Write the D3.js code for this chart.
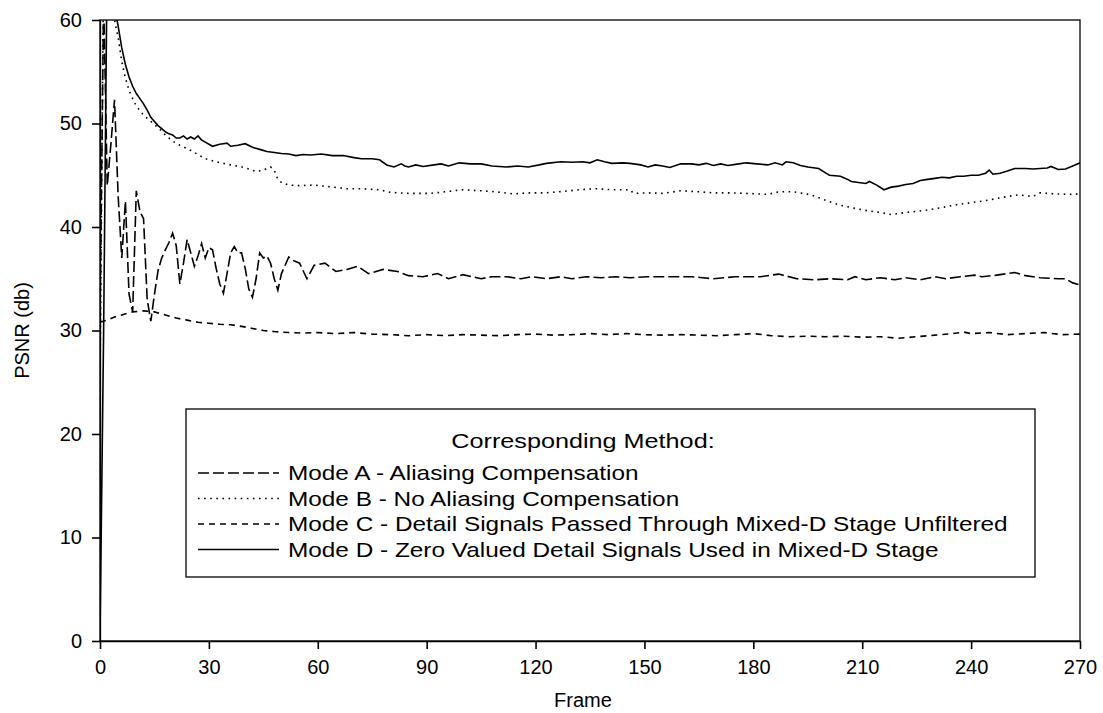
<!DOCTYPE html>
<html>
<head>
<meta charset="utf-8">
<script src="https://cdn.jsdelivr.net/npm/d3@7"></script>
<style>
  body { margin: 0; background: #fff; }
  text { font-family: "Liberation Sans", Arial, sans-serif; fill: #000; }
</style>
</head>
<body>
<div id="chart"></div>
<script>
// The data (PSNR per frame)
var modeAFrames = [0, 1, 2, 3, 4, 5, 6, 7, 8, 9, 10, 11, 12, 13, 14, 15, 16, 17, 18, 19, 20, 21, 22, 23, 24, 25, 26, 27, 28, 29, 30, 31, 32, 33, 34, 35, 36, 37, 38, 39, 40, 41, 42, 43, 44, 45, 46, 47, 48, 49, 50, 52, 53, 55, 57, 59, 62, 65, 68, 71, 74, 78, 82, 85, 89, 93, 96, 100, 105, 108, 112, 116, 119, 123, 127, 130, 134, 138, 142, 146, 151, 154, 158, 163, 166, 169, 175, 182, 187, 192, 197, 201, 206, 208, 211, 215, 219, 222, 226, 230, 233, 237, 241, 243, 247, 252, 255, 259, 264, 266, 268, 270];
var modeAValues = [31, 62, 44, 48, 52.3, 43, 37, 42.5, 33.5, 31.8, 43.5, 41.5, 40.8, 33, 30.9, 33.5, 35.8, 37, 37.8, 38.5, 39.4, 38.2, 34.5, 36.5, 38.8, 37.5, 36.2, 37.2, 38.4, 37, 38, 37.8, 36, 34.5, 33.6, 35.5, 37.5, 38.1, 37.5, 37.5, 36, 34, 33.2, 35, 37.5, 37, 37.2, 36.5, 35, 33.9, 35.5, 37.1, 36.8, 36.5, 35.0, 36.3, 36.5, 35.7, 35.9, 36.2, 35.5, 35.9, 35.7, 35.3, 35.2, 35.5, 35.0, 35.4, 35.0, 35.2, 35.2, 35.0, 35.2, 35.0, 35.2, 35.0, 35.2, 35.1, 35.2, 35.1, 35.2, 35.2, 35.2, 35.2, 35.1, 35.0, 35.2, 35.2, 35.45, 35.0, 34.9, 35.0, 34.9, 35.2, 34.9, 35.1, 34.9, 35.1, 34.9, 35.2, 35.0, 35.2, 35.35, 35.2, 35.35, 35.6, 35.3, 35.1, 35.0, 35.0, 34.6, 34.4];

var modeBFrames = [0, 1, 2, 3, 4, 5, 6, 7, 8, 9, 10, 12, 14, 16, 18, 20, 22, 25, 27, 29, 32, 34, 36, 39, 41, 43, 45, 47, 48, 49, 50, 52, 55, 59, 63, 68, 72, 77, 80, 85, 91, 95, 100, 105, 109, 114, 118, 123, 128, 132, 137, 141, 146, 147, 151, 155, 160, 165, 169, 174, 178, 184, 187, 191, 196, 199, 201, 204, 206, 210, 215, 218, 222, 226, 229, 233, 236, 240, 244, 247, 250, 253, 257, 259, 263, 268, 270];
var modeBValues = [25, 66, 63, 61.5, 60, 58.3, 56, 54.4, 53.2, 52.4, 51.7, 50.8, 50.2, 49.6, 48.9, 48.3, 47.9, 47.4, 47.0, 46.6, 46.3, 46.15, 46.0, 45.8, 45.6, 45.35, 45.5, 45.8, 45.5, 44.6, 44.3, 44.05, 44.0, 44.05, 43.9, 43.7, 43.7, 43.6, 43.35, 43.25, 43.25, 43.4, 43.6, 43.5, 43.4, 43.2, 43.3, 43.3, 43.45, 43.6, 43.7, 43.6, 43.6, 43.25, 43.3, 43.25, 43.5, 43.4, 43.3, 43.3, 43.25, 43.15, 43.4, 43.4, 43.1, 42.7, 42.45, 42.1, 41.95, 41.65, 41.4, 41.2, 41.4, 41.55, 41.7, 41.95, 42.15, 42.35, 42.55, 42.75, 42.95, 43.1, 42.95, 43.3, 43.2, 43.15, 43.2];

var modeCFrames = [0, 2, 4, 6, 9, 12, 15, 18, 21, 24, 27, 30, 33, 36, 39, 42, 45, 48, 52, 56, 60, 65, 70, 75, 80, 85, 90, 95, 100, 105, 110, 115, 120, 125, 130, 135, 140, 145, 150, 155, 160, 165, 170, 175, 180, 185, 190, 195, 200, 205, 210, 215, 220, 225, 230, 235, 238, 240, 245, 250, 255, 260, 265, 270];
var modeCValues = [30.8, 31.0, 31.3, 31.5, 31.8, 31.9, 31.8, 31.5, 31.2, 31.0, 30.8, 30.7, 30.6, 30.55, 30.4, 30.2, 30.0, 29.9, 29.8, 29.75, 29.8, 29.7, 29.8, 29.65, 29.6, 29.5, 29.6, 29.5, 29.6, 29.55, 29.5, 29.6, 29.65, 29.55, 29.6, 29.7, 29.6, 29.7, 29.6, 29.55, 29.6, 29.55, 29.5, 29.6, 29.7, 29.5, 29.4, 29.45, 29.4, 29.45, 29.35, 29.4, 29.25, 29.4, 29.55, 29.7, 29.85, 29.7, 29.8, 29.6, 29.7, 29.8, 29.6, 29.65];

var modeDFrames = [0, 1, 2, 3, 4, 5, 6, 7, 8, 9, 10, 11, 12, 13, 14, 15, 16, 17, 18, 19, 20, 21, 22, 23, 24, 25, 26, 27, 28, 29, 31, 33, 35, 36, 38, 40, 42, 44, 46, 48, 50, 52, 54, 56, 58, 61, 64, 67, 70, 72, 75, 77, 79, 81, 83, 84, 85, 87, 89, 92, 94, 96, 99, 102, 105, 108, 112, 115, 118, 121, 123, 127, 130, 133, 135, 137, 139, 141, 144, 146, 149, 151, 153, 155, 157, 160, 163, 165, 167, 169, 171, 173, 176, 178, 181, 184, 186, 188, 189, 191, 193, 195, 197, 198, 200, 201, 204, 206, 207, 209, 211, 212, 214, 216, 218, 220, 222, 224, 226, 228, 230, 232, 234, 236, 238, 240, 242, 244, 245, 246, 248, 250, 252, 255, 257, 259, 261, 262, 264, 266, 268, 270];
var modeDValues = [0.5, 30, 67, 64, 61.3, 59.4, 57.3, 55.7, 54.5, 53.6, 52.9, 52.4, 51.9, 51.3, 50.6, 50.2, 49.8, 49.5, 49.2, 49.0, 48.9, 48.6, 48.6, 48.8, 48.5, 48.7, 48.5, 48.8, 48.4, 48.2, 47.8, 48.0, 48.1, 47.8, 47.9, 48.05, 47.7, 47.5, 47.3, 47.2, 47.1, 47.05, 46.9, 47.0, 46.95, 47.05, 46.9, 46.9, 46.7, 46.6, 46.6, 46.5, 46.0, 45.8, 46.1, 45.9, 45.8, 46.0, 45.85, 46.0, 46.1, 45.9, 46.2, 46.1, 46.1, 45.9, 45.8, 45.9, 45.8, 46.0, 46.15, 46.3, 46.25, 46.3, 46.2, 46.5, 46.3, 46.15, 46.2, 46.15, 46.0, 45.8, 46.0, 45.9, 45.75, 46.1, 46.1, 46.0, 46.15, 45.95, 46.1, 45.95, 46.1, 46.2, 46.1, 46.0, 46.2, 46.0, 46.3, 46.2, 45.95, 45.8, 45.7, 45.65, 45.2, 45.0, 44.9, 44.6, 44.4, 44.3, 44.2, 44.4, 44.05, 43.6, 43.85, 43.95, 44.1, 44.2, 44.5, 44.6, 44.7, 44.8, 44.75, 44.9, 44.9, 45.0, 45.0, 45.2, 45.5, 45.1, 45.2, 45.4, 45.65, 45.65, 45.6, 45.65, 45.7, 45.85, 45.55, 45.6, 45.9, 46.2];

var xTicks = [0, 30, 60, 90, 120, 150, 180, 210, 240, 270];
var yTicks = [0, 10, 20, 30, 40, 50, 60];

var legendTitle = 'Corresponding Method:';
var legendLabels = [
  'Mode A - Aliasing Compensation',
  'Mode B - No Aliasing Compensation',
  'Mode C - Detail Signals Passed Through Mixed-D Stage Unfiltered',
  'Mode D - Zero Valued Detail Signals Used in Mixed-D Stage'
];

// Chart dimensions
var margin = { top: 20, right: 23, bottom: 72, left: 100 },
    width = 1103 - margin.left - margin.right,
    height = 713 - margin.top - margin.bottom;

// line style per series
var dashes = ['11,4', '1.6,4.5', '6,5', null];

var series = [
  { frames: modeAFrames, values: modeAValues },
  { frames: modeBFrames, values: modeBValues },
  { frames: modeCFrames, values: modeCValues },
  { frames: modeDFrames, values: modeDValues }
];

var x = d3.scaleLinear().domain([0, 270]).range([0, width]);
var y = d3.scaleLinear().domain([0, 60]).range([height, 0]);

var svg = d3.select('#chart').append('svg')
    .attr('width', 1103)
    .attr('height', 713)
  .append('g')
    .attr('transform', 'translate(' + margin.left + ',' + margin.top + ')');

svg.append('clipPath')
    .attr('id', 'plot-clip')
  .append('rect')
    .attr('width', width)
    .attr('height', height);

// frame around plot
svg.append('rect')
    .attr('width', width)
    .attr('height', height)
    .style('fill', 'none')
    .style('stroke', '#000')
    .style('stroke-width', 1.3);

var line = d3.line()
    .x(function(d) { return x(d[0]); })
    .y(function(d) { return y(d[1]); });

svg.append('g')
    .attr('clip-path', 'url(#plot-clip)')
  .selectAll('path')
    .data(series)
    .enter()
  .append('path')
    .attr('d', function(s) { return line(d3.zip(s.frames, s.values)); })
    .style('fill', 'none')
    .style('stroke', '#000')
    .style('stroke-width', 1.6)
    .style('stroke-dasharray', function(d, i) { return dashes[i]; });

// axes
var xAxis = svg.append('g')
    .attr('transform', 'translate(0,' + height + ')')
    .call(d3.axisBottom(x).tickValues(xTicks).tickSize(8).tickSizeOuter(0).tickPadding(11));

var yAxis = svg.append('g')
    .call(d3.axisLeft(y).tickValues(yTicks).tickSize(8).tickSizeOuter(0).tickPadding(10));

[xAxis, yAxis].forEach(function(a) {
  a.select('.domain').style('stroke', '#000').style('stroke-width', 1.3);
  a.selectAll('.tick line').style('stroke', '#000').style('stroke-width', 1.6);
  a.selectAll('.tick text')
      .style('font-family', '"Liberation Sans", Arial, sans-serif')
      .style('font-size', '20px')
      .style('fill', '#000');
});

svg.append('text')
    .attr('x', width / 2 - 7)
    .attr('y', height + 66)
    .attr('text-anchor', 'middle')
    .style('font-size', '20px')
    .text('Frame');

svg.append('text')
    .attr('transform', 'translate(-71,' + (height / 2) + ') rotate(-90)')
    .attr('text-anchor', 'middle')
    .style('font-size', '20px')
    .text('PSNR (db)');

// legend
var legend = svg.append('g')
    .attr('transform', 'translate(' + (186 - margin.left) + ',' + (409 - margin.top) + ')');

legend.append('rect')
    .attr('width', 849)
    .attr('height', 168)
    .style('fill', '#fff')
    .style('stroke', '#000')
    .style('stroke-width', 1.3);

// legend text in the figure is a bit wider than the font, stretch it
legend.append('text')
    .attr('transform', 'translate(397,39) scale(1.2,1)')
    .attr('text-anchor', 'middle')
    .style('font-size', '21px')
    .text(legendTitle);

var item = legend.selectAll('.item')
    .data(legendLabels)
    .enter()
  .append('g')
    .attr('class', 'item')
    .attr('transform', function(d, i) { return 'translate(0,' + (64 + i * 25.5) + ')'; });

item.append('line')
    .attr('x1', 12)
    .attr('x2', 93)
    .style('stroke', '#000')
    .style('stroke-width', 1.4)
    .style('stroke-dasharray', function(d, i) { return dashes[i]; });

item.append('text')
    .attr('transform', 'translate(102,7) scale(1.16,1)')
    .style('font-size', '21px')
    .text(function(d) { return d; });
</script>
</body>
</html>
